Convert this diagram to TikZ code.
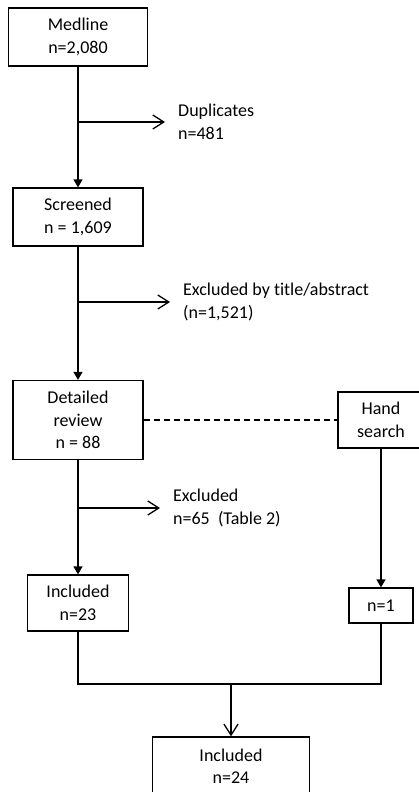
\documentclass[tikz,border=0pt]{standalone}
\usepackage{fontspec}
\setmainfont{Carlito}[Ligatures=NoCommon]
\usetikzlibrary{arrows.meta}

\tikzset{
  box/.style={draw,line width=1.3pt,align=center,inner sep=2pt},
  feed/.style={draw,line width=1.3pt,-{Triangle[length=8pt,width=9pt]}},
  drop/.style={draw,line width=1.3pt,-{Straight Barb[length=11pt,width=14pt]}},
  note/.style={anchor=west,align=left,inner xsep=13pt,inner ysep=0pt}
}
\tikzstyle{every node}=[font=\fontsize{18}{22.5}\selectfont]

\begin{document}
\begin{tikzpicture}[x=1pt,y=-1pt]
    \path[use as bounding box,clip] (0,0) rectangle (419,792);
    \node[box,minimum width=139pt,minimum height=58pt] (medline) at (78,37) {Medline\\n=2,080};
    \node[box,minimum width=130pt,minimum height=58pt] (screened) at (78,217) {Screened\\n = 1,609};
    \node[box,minimum width=130pt,minimum height=79pt] (detailed) at (78,420) {Detailed\\review\\n = 88};
    \node[box,minimum width=101pt,minimum height=56pt] (inc23) at (78,603) {Included\\n=23};
    \node[box,minimum width=86pt,minimum height=56pt] (hand) at (381,420) {Hand\\search};
    \node[box,minimum width=64pt,minimum height=35pt] (n1) at (381,605.5) {n=1};
    \node[box,minimum width=157pt,minimum height=58pt] (inc24) at (231,766) {Included\\n=24};

    \coordinate (dupat) at (78,122);
    \coordinate (titat) at (78,302);
    \coordinate (excat) at (78,508);
    \coordinate (join) at (231,684);

    \node[note] (dup) at (165,122) {Duplicates\\n=481};
    \node[note] (tit) at (170,302) {Excluded by title/abstract\\(n=1,521)};
    \node[note] (exc) at (160,508) {Excluded\\n=65~ (Table 2)};

    \draw [feed] (medline) -- (screened);
    \draw [feed] (screened) -- (detailed);
    \draw [feed] (detailed) -- (inc23);
    \draw [feed] (hand) -- (n1);
    \draw [drop] (dupat) -- (dup.west);
    \draw [drop] (titat) -- (tit.west);
    \draw [drop] (excat) -- (exc.west);
    \draw [line width=1.3pt,dash pattern=on 6pt off 4pt] (detailed) -- (hand);
    \draw [line width=1.3pt] (inc23) |- (join) -| (n1);
    \draw [drop] (join) -- (inc24);
\end{tikzpicture}
\end{document}
